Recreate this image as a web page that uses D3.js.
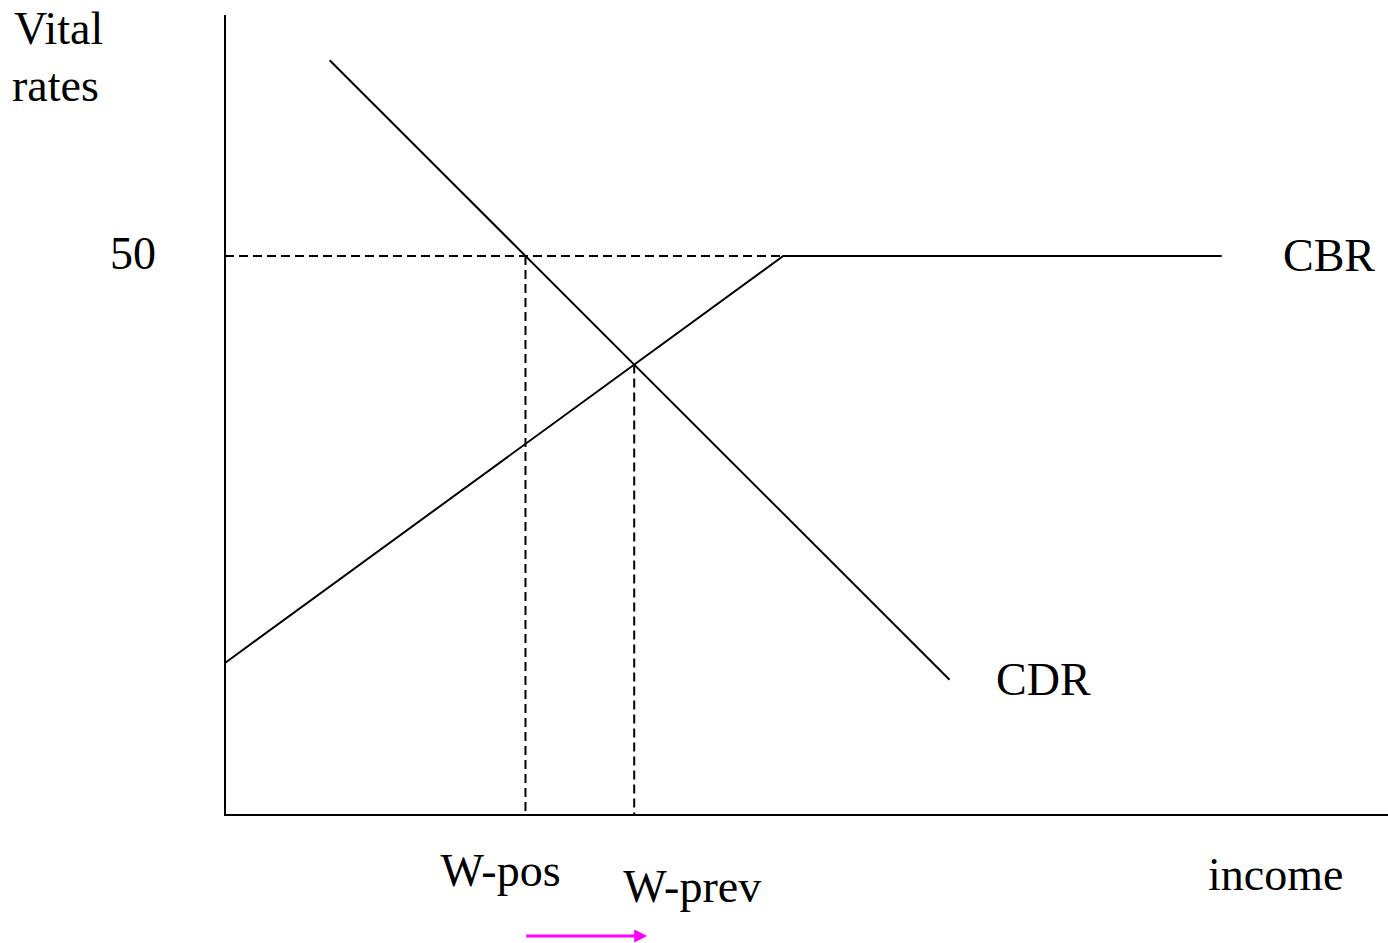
<!DOCTYPE html>
<html>
<head>
<meta charset="utf-8">
<script src="https://cdn.jsdelivr.net/npm/d3@7"></script>
<style>
  body { margin: 0; background: #fff; }
  text { font-family: "Liberation Serif", "Times New Roman", serif; fill: #000; }
</style>
</head>
<body>
<div id="chart"></div>
<script>
// income on x (0..100), vital rates on y
const cdrPoints = [[9.0, 67.5], [62.3, 12.1]];
const cbrPoints = [[0, 13.6], [48.0, 50], [85.7, 50]];
const rateTicks = [50];
const arrowFrom = 25.9, arrowTo = 36.3; // shift of the equilibrium

const width = 1388, height = 943;

const x = d3.scaleLinear().domain([0, 100]).range([225, 1388]);
const y = d3.scaleLinear().domain([0, 71.55]).range([815, 15]);

const svg = d3.select('#chart').append('svg')
    .attr('width', width)
    .attr('height', height);

const line = d3.line().x(d => x(d[0])).y(d => y(d[1]));

// where a line hits a rate level / another line
function xAtRate(pts, r) {
    const [a, b] = pts;
    return a[0] + (r - a[1]) * (b[0] - a[0]) / (b[1] - a[1]);
}
function crossing(p, q) {
    const m1 = (p[1][1] - p[0][1]) / (p[1][0] - p[0][0]);
    const m2 = (q[1][1] - q[0][1]) / (q[1][0] - q[0][0]);
    const xi = (q[0][1] - p[0][1] + m1 * p[0][0] - m2 * q[0][0]) / (m1 - m2);
    return [xi, p[0][1] + m1 * (xi - p[0][0])];
}

const wPos = xAtRate(cdrPoints, 50);
const eq = crossing(cdrPoints, cbrPoints.slice(0, 2));

// dashed guides
const dash = '9,5';
[[[0, 50], [cbrPoints[1][0], 50]],
 [[wPos, 50], [wPos, 0]],
 [eq, [eq[0], 0]]].forEach(seg => {
    svg.append('path')
        .attr('d', line(seg))
        .attr('stroke', '#000').attr('stroke-width', 2)
        .attr('stroke-dasharray', dash).attr('fill', 'none');
});

// curves
svg.append('path').attr('d', line(cdrPoints))
    .attr('stroke', '#000').attr('stroke-width', 2).attr('fill', 'none');
svg.append('path').attr('d', line(cbrPoints))
    .attr('stroke', '#000').attr('stroke-width', 2).attr('fill', 'none');

// axes
svg.append('path').attr('d', line([[0, 71.55], [0, 0], [100, 0]]))
    .attr('stroke', '#000').attr('stroke-width', 2).attr('fill', 'none');

// labels
const fs = 46;
svg.append('text').attr('x', 14).attr('y', 44).attr('font-size', fs).text('Vital');
svg.append('text').attr('x', 12).attr('y', 101).attr('font-size', fs).text('rates');
rateTicks.forEach(t => {
    svg.append('text').attr('x', 156).attr('y', y(t) + 13)
        .attr('text-anchor', 'end').attr('font-size', fs).text(t);
});
svg.append('text').attr('x', 1283).attr('y', y(50) + 15).attr('font-size', fs).text('CBR');
svg.append('text').attr('x', 996).attr('y', 695).attr('font-size', fs).text('CDR');
svg.append('text').attr('x', x(wPos) - 85).attr('y', 886).attr('font-size', fs).text('W-pos');
svg.append('text').attr('x', x(eq[0]) - 11).attr('y', 902).attr('font-size', fs).text('W-prev');
svg.append('text').attr('x', 1208).attr('y', 890).attr('font-size', fs).text('income');

// magenta arrow
svg.append('defs').append('marker')
    .attr('id', 'head').attr('viewBox', '0 0 10 10')
    .attr('refX', 10).attr('refY', 5)
    .attr('markerWidth', 17).attr('markerHeight', 13)
    .attr('markerUnits', 'userSpaceOnUse')
    .attr('orient', 'auto')
    .append('path').attr('d', 'M0,0L10,5L0,10Z').attr('fill', '#ff00ff');
svg.append('line')
    .attr('x1', x(arrowFrom)).attr('x2', x(arrowTo) - 8)
    .attr('y1', 936).attr('y2', 936)
    .attr('stroke', '#ff00ff').attr('stroke-width', 3);
svg.append('line')
    .attr('x1', x(arrowTo) - 10).attr('x2', x(arrowTo))
    .attr('y1', 936).attr('y2', 936)
    .attr('stroke', 'none')
    .attr('marker-end', 'url(#head)');
</script>
</body>
</html>
